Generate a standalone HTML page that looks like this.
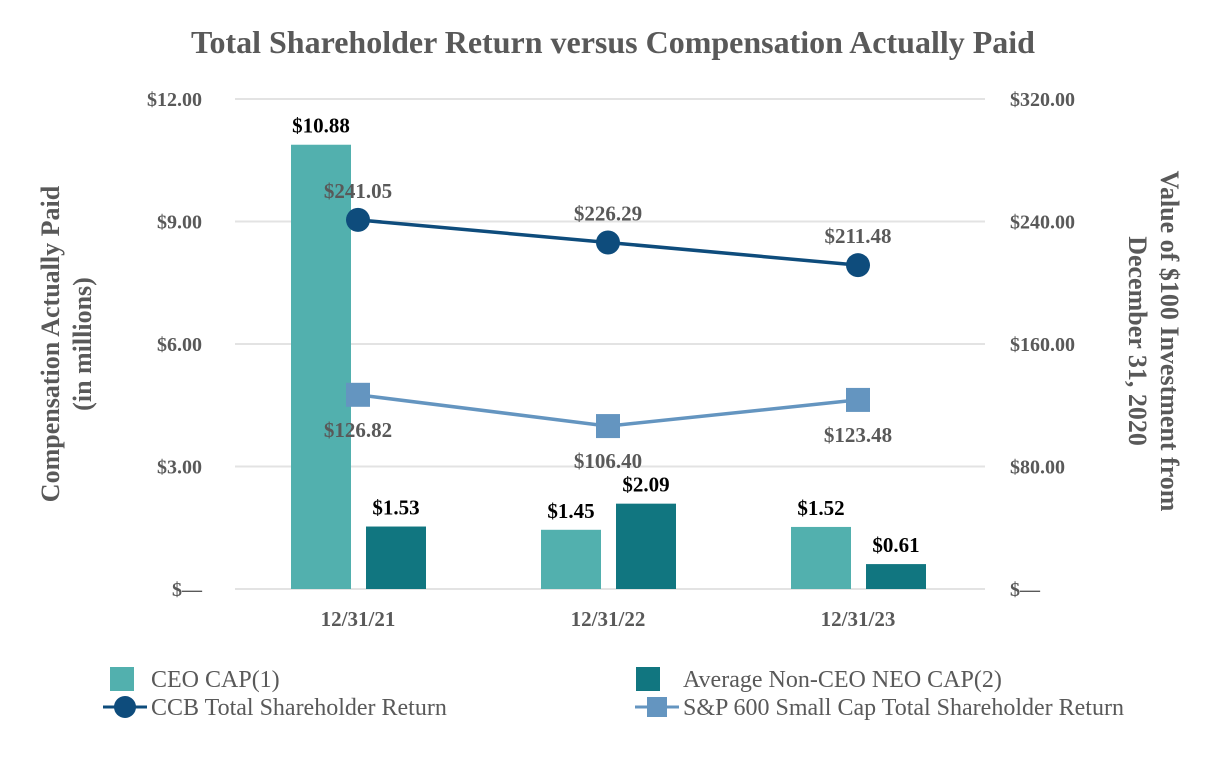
<!DOCTYPE html>
<html><head><meta charset="utf-8"><style>
body{margin:0;background:#fff;}
svg{display:block;font-family:"Liberation Serif",serif;}
</style></head><body>
<svg width="1226" height="760">
<text x="613" y="53" text-anchor="middle" font-size="32" font-weight="bold" fill="#595959">Total Shareholder Return versus Compensation Actually Paid</text>
<g id="grid"></g><g id="axes"></g><g id="bars"></g><g id="lines"></g><g id="labels"></g>
<text transform="translate(62,344) rotate(-90)" text-anchor="middle" font-size="26" font-weight="bold" fill="#595959"><tspan x="0" dy="-3">Compensation Actually Paid</tspan><tspan x="0" dy="32">(in millions)</tspan></text>
<text transform="translate(1158,341) rotate(90)" text-anchor="middle" font-size="26" font-weight="bold" fill="#595959"><tspan x="0" dy="-3">Value of $100 Investment from</tspan><tspan x="0" dy="32">December 31, 2020</tspan></text>
<g font-size="24" fill="#595959">
<rect x="110" y="667" width="24" height="24" fill="#52b0ae"/>
<text x="151" y="687">CEO CAP(1)</text>
<rect x="636" y="667" width="24" height="24" fill="#117680"/>
<text x="683" y="687">Average Non-CEO NEO CAP(2)</text>
<line x1="103" y1="707" x2="147" y2="707" stroke="#0e4c7c" stroke-width="3"/>
<circle cx="125" cy="707" r="11" fill="#0e4c7c"/>
<text x="151" y="715">CCB Total Shareholder Return</text>
<line x1="635" y1="707" x2="679" y2="707" stroke="#6495c0" stroke-width="3"/>
<rect x="647" y="697" width="20" height="20" fill="#6495c0"/>
<text x="683" y="715">S&amp;P 600 Small Cap Total Shareholder Return</text>
</g>
</svg>
<script>
const categories=["12/31/21","12/31/22","12/31/23"];
const ceoCap=[10.88,1.45,1.52];
const neoCap=[1.53,2.09,0.61];
const ccbTsr=[241.05,226.29,211.48];
const spTsr=[126.82,106.40,123.48];
const leftTicks=[0,3,6,9,12];
const leftTickLabels=["$—","$3.00","$6.00","$9.00","$12.00"];
const rightTicks=[0,80,160,240,320];
const rightTickLabels=["$—","$80.00","$160.00","$240.00","$320.00"];
const NS="http://www.w3.org/2000/svg";
const X0=235,X1=985,Y0=589,Y1=99;
const yL=v=>Y0-(v/12)*(Y0-Y1);
const yR=v=>Y0-(v/320)*(Y0-Y1);
const bw=(X1-X0)/categories.length;
const xC=i=>X0-2+bw*(i+0.5);
function mk(tag,attrs,parent,text){const e=document.createElementNS(NS,tag);for(const k in attrs)e.setAttribute(k,attrs[k]);if(text!==undefined)e.textContent=text;document.getElementById(parent).appendChild(e);return e;}
leftTicks.forEach((t,i)=>{
 const g=mk("line",{x1:X0,x2:X1,y1:yL(t),y2:yL(t),stroke:"#e3e3e3","stroke-width":2},"grid");
 
 
 const l=mk("text",{x:202,y:yL(t)+7,"text-anchor":"end","font-size":20,"font-weight":"bold",fill:"#595959"},"axes",leftTickLabels[i]);
 
 
});
rightTicks.forEach((t,i)=>{
 const l=mk("text",{x:1010,y:yR(t)+7,"font-size":20,"font-weight":"bold",fill:"#595959"},"axes",rightTickLabels[i]);
 
 
});
categories.forEach((c,i)=>{
 const l=mk("text",{x:xC(i),y:626,"text-anchor":"middle","font-size":21,"font-weight":"bold",fill:"#595959"},"axes",c);
 
 
 const b1=mk("rect",{x:xC(i)-67,y:yL(ceoCap[i]),width:60,height:Y0-yL(ceoCap[i]),fill:"#52b0ae"},"bars");
 
 
 const b2=mk("rect",{x:xC(i)+8,y:yL(neoCap[i]),width:60,height:Y0-yL(neoCap[i]),fill:"#117680"},"bars");
 
 
 const t1=mk("text",{x:xC(i)-37,y:yL(ceoCap[i])-12,"text-anchor":"middle","font-size":21,"font-weight":"bold",fill:"#000"},"labels","$"+ceoCap[i].toFixed(2));
 
 
 const t2=mk("text",{x:xC(i)+38,y:yL(neoCap[i])-12,"text-anchor":"middle","font-size":21,"font-weight":"bold",fill:"#000"},"labels","$"+neoCap[i].toFixed(2));
 
 
});
const ccbPts=ccbTsr.map((v,i)=>xC(i)+","+yR(v)).join(" ");
const spPts=spTsr.map((v,i)=>xC(i)+","+yR(v)).join(" ");
const l1=mk("polyline",{points:ccbPts,fill:"none",stroke:"#0e4c7c","stroke-width":3.5},"lines");


const l2=mk("polyline",{points:spPts,fill:"none",stroke:"#6495c0","stroke-width":3.5},"lines");


ccbTsr.forEach((v,i)=>{
 const m=mk("circle",{cx:xC(i),cy:yR(v),r:12,fill:"#0e4c7c"},"lines");
 
 
 const t=mk("text",{x:xC(i),y:yR(v)-22,"text-anchor":"middle","font-size":21,"font-weight":"bold",fill:"#595959"},"labels","$"+v.toFixed(2));
 
 
});
spTsr.forEach((v,i)=>{
 const m=mk("rect",{x:xC(i)-12,y:yR(v)-12,width:24,height:24,fill:"#6495c0"},"lines");
 
 
 const t=mk("text",{x:xC(i),y:yR(v)+42,"text-anchor":"middle","font-size":21,"font-weight":"bold",fill:"#595959"},"labels","$"+v.toFixed(2));
 
 
});
</script>
</body></html>
